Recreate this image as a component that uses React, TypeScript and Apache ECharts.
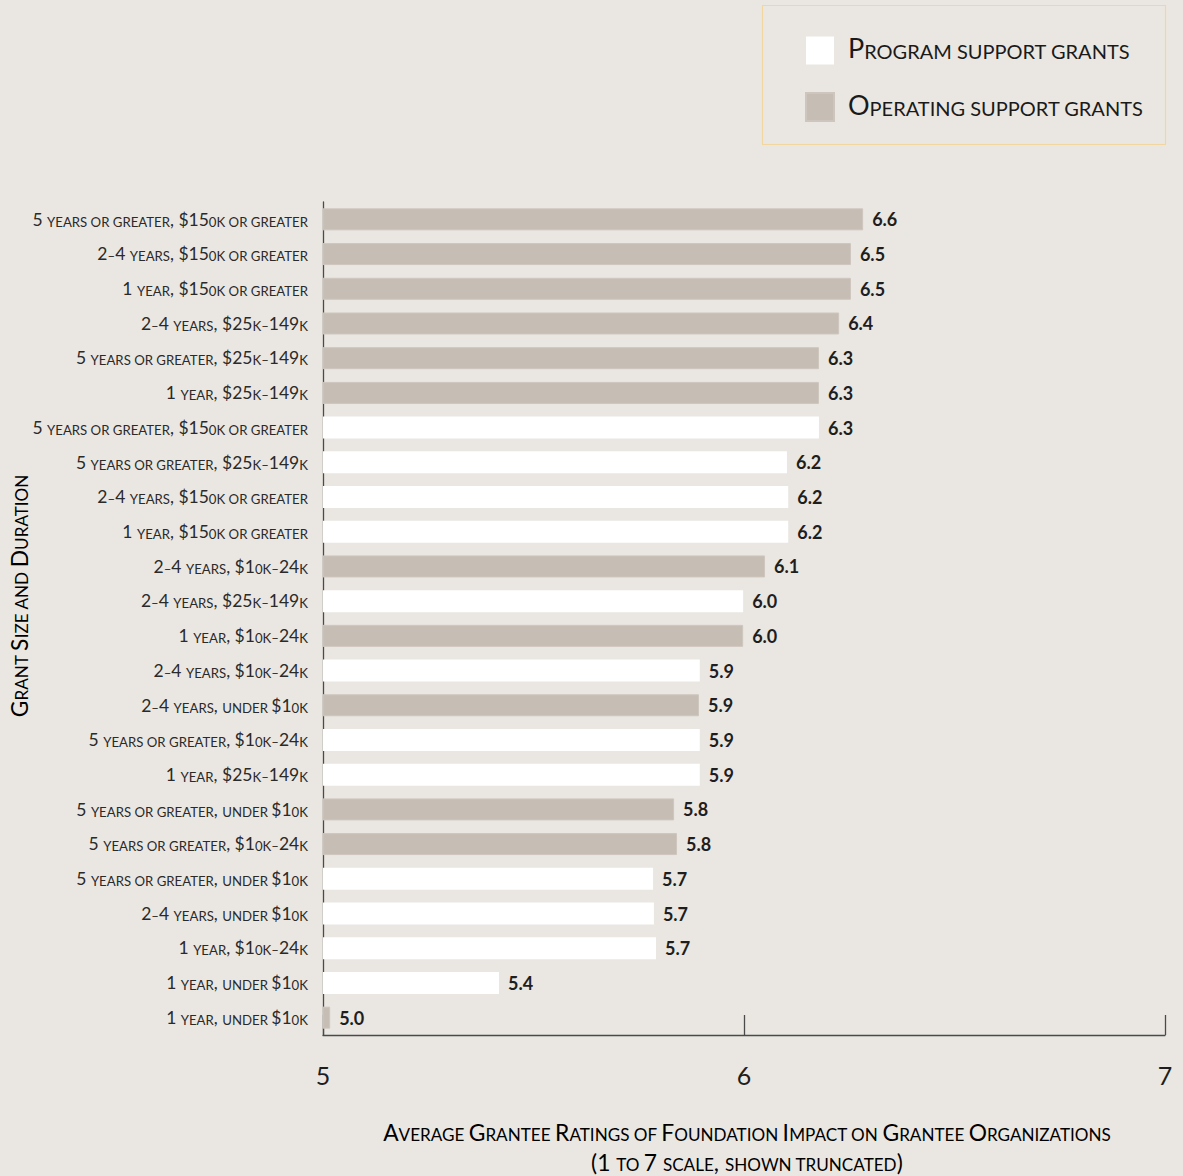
import React, { useEffect, useRef } from "react";
import * as echarts from "echarts";

// Category labels, top to bottom
const categories: string[] = [
  "5 years or greater, $150k or greater",
  "2–4 years, $150k or greater",
  "1 year, $150k or greater",
  "2–4 years, $25k–149k",
  "5 years or greater, $25k–149k",
  "1 year, $25k–149k",
  "5 years or greater, $150k or greater",
  "5 years or greater, $25k–149k",
  "2–4 years, $150k or greater",
  "1 year, $150k or greater",
  "2–4 years, $10k–24k",
  "2–4 years, $25k–149k",
  "1 year, $10k–24k",
  "2–4 years, $10k–24k",
  "2–4 years, under $10k",
  "5 years or greater, $10k–24k",
  "1 year, $25k–149k",
  "5 years or greater, under $10k",
  "5 years or greater, $10k–24k",
  "5 years or greater, under $10k",
  "2–4 years, under $10k",
  "1 year, $10k–24k",
  "1 year, under $10k",
  "1 year, under $10k",
];

// P = program support grant, O = operating support grant
const grantTypes: string[] = [
  "O", "O", "O", "O", "O", "O", "P", "P", "P", "P", "O", "P",
  "O", "P", "O", "P", "P", "O", "O", "P", "P", "P", "P", "O",
];

// Bar lengths as drawn in the picture
const barValues: number[] = [
  6.283, 6.254, 6.254, 6.226, 6.178, 6.178, 6.178, 6.102, 6.105, 6.105, 6.05, 5.998,
  5.998, 5.895, 5.893, 5.895, 5.895, 5.834, 5.841, 5.784, 5.786, 5.791, 5.418, 5.017,
];

// Value labels as printed
const valueLabels: string[] = [
  "6.6", "6.5", "6.5", "6.4", "6.3", "6.3", "6.3", "6.2", "6.2", "6.2", "6.1", "6.0",
  "6.0", "5.9", "5.9", "5.9", "5.9", "5.8", "5.8", "5.7", "5.7", "5.7", "5.4", "5.0",
];

const xTicks: number[] = [5, 6, 7];

const seriesNames = ["Program support grants", "Operating support grants"];
const xTitleLines = [
  "Average Grantee Ratings of Foundation Impact on Grantee Organizations",
  "(1 to 7 scale, shown truncated)",
];
const yTitle = "Grant Size and Duration";

const FONT = "Lato";
const BG = "#EAE7E2";
const OPER = "#C6BDB4";
const INK = "#1e1e1e";

// Fake small caps with rich text: lowercase letters become smaller capitals
function smallCaps(text: string, big: string, small: string): string {
  let out = "";
  let cur = "";
  let curKind = "";
  const flush = () => {
    if (cur) out += "{" + curKind + "|" + cur + "}";
    cur = "";
  };
  for (const ch of text) {
    let kind: string;
    let c = ch;
    if (ch === " ") {
      kind = curKind || small;
    } else if (/[a-z]/.test(ch)) {
      kind = small;
      c = ch.toUpperCase();
    } else if (ch === "0" || ch === "–") {
      kind = small;
    } else {
      kind = big;
    }
    if (kind !== curKind) {
      flush();
      curKind = kind;
    }
    cur += c;
  }
  flush();
  return out;
}

function richPair(bigName: string, smallName: string, bigSize: number, smallSize: number, color: string) {
  return {
    [bigName]: {
      fontFamily: FONT,
      fontSize: bigSize,
      color,
      verticalAlign: "bottom",
      lineHeight: bigSize,
    },
    [smallName]: {
      fontFamily: FONT,
      fontSize: smallSize,
      color,
      verticalAlign: "bottom",
      lineHeight: bigSize * 0.93,
    },
  };
}

export default function App() {
  const ref = useRef<HTMLDivElement>(null);

  useEffect(() => {
    if (!ref.current) return;
    const chart = echarts.init(ref.current, undefined, { renderer: "svg" });

    const catRich = richPair("cb", "cs", 17.5, 13.2, "#2a2a2a");
    const legRich = { ...richPair("lb", "ls", 27, 20, "#1a1a1a"), sp: { width: 9 } };
    const axRich = richPair("ab", "as", 22.8, 17.1, "#1a1a1a");

    const seriesFor = (t: string) =>
      barValues.map((v, i) => (grantTypes[i] === t ? v : "-"));

    const labelCfg = {
      show: true,
      position: "right",
      distance: 9,
      fontFamily: FONT,
      fontWeight: "bold",
      fontSize: 18,
      color: INK,
      formatter: (p: any) => valueLabels[p.dataIndex],
    };

    const titleText = (text: string, x: number, y: number, rotation = 0) => ({
      type: "text",
      x,
      y,
      rotation,
      style: {
        text: smallCaps(text, "ab", "as"),
        rich: axRich,
        align: "center",
        verticalAlign: "middle",
      },
    });

    chart.setOption({
      animation: false,
      backgroundColor: BG,
      grid: {
        left: 323,
        right: 18,
        top: 202,
        bottom: 141,
        containLabel: false,
        outerBoundsMode: "none",
      },
      legend: {
        orient: "vertical",
        left: 805,
        top: 34,
        padding: 0,
        itemWidth: 28,
        itemHeight: 28,
        itemGap: 26,
        icon: "rect",
        selectedMode: false,
        data: seriesNames,
        formatter: (name: string) => "{sp| }" + smallCaps(name, "lb", "ls"),
        textStyle: { rich: legRich, padding: [0, 0, 6, 0] },
      },
      xAxis: {
        type: "value",
        min: xTicks[0],
        max: xTicks[xTicks.length - 1],
        interval: 1,
        axisLine: { show: true, lineStyle: { color: "#4a4a4a", width: 1.3 } },
        axisTick: { show: true, inside: true, length: 20, lineStyle: { color: "#4a4a4a", width: 1.3 } },
        splitLine: { show: false },
        axisLabel: { fontFamily: FONT, fontSize: 25, color: INK, margin: 27 },
      },
      yAxis: {
        type: "category",
        inverse: true,
        data: categories.map((_, i) => String(i)),
        axisLine: { show: true, lineStyle: { color: "#4a4a4a", width: 1.3 } },
        axisTick: { show: false },
        axisLabel: {
          margin: 15,
          formatter: (_v: string, i: number) => smallCaps(categories[i], "cb", "cs"),
          rich: catRich,
        },
      },
      graphic: [
        {
          type: "rect",
          shape: { x: 762.5, y: 5.5, width: 403, height: 139 },
          style: { fill: "none", stroke: "#F2D69F", lineWidth: 1.2 },
        },
        titleText(yTitle, 19, 596, Math.PI / 2),
        titleText(xTitleLines[0], 747, 1132),
        titleText(xTitleLines[1], 747, 1162),
      ],
      series: [
        {
          name: seriesNames[0],
          type: "bar",
          data: seriesFor("P"),
          barWidth: 22,
          barGap: "-100%",
          itemStyle: { color: "#FFFFFF" },
          label: labelCfg,
        },
        {
          name: seriesNames[1],
          type: "bar",
          data: seriesFor("O"),
          barWidth: 22,
          barGap: "-100%",
          itemStyle: { color: OPER, borderColor: "#CEC6BE", borderWidth: 1 },
          label: labelCfg,
        },
      ],
    });

    return () => chart.dispose();
  }, []);

  return (
    <div
      ref={ref}
      style={{ position: "fixed", left: 0, top: 0, width: 1183, height: 1176, background: BG }}
    />
  );
}
